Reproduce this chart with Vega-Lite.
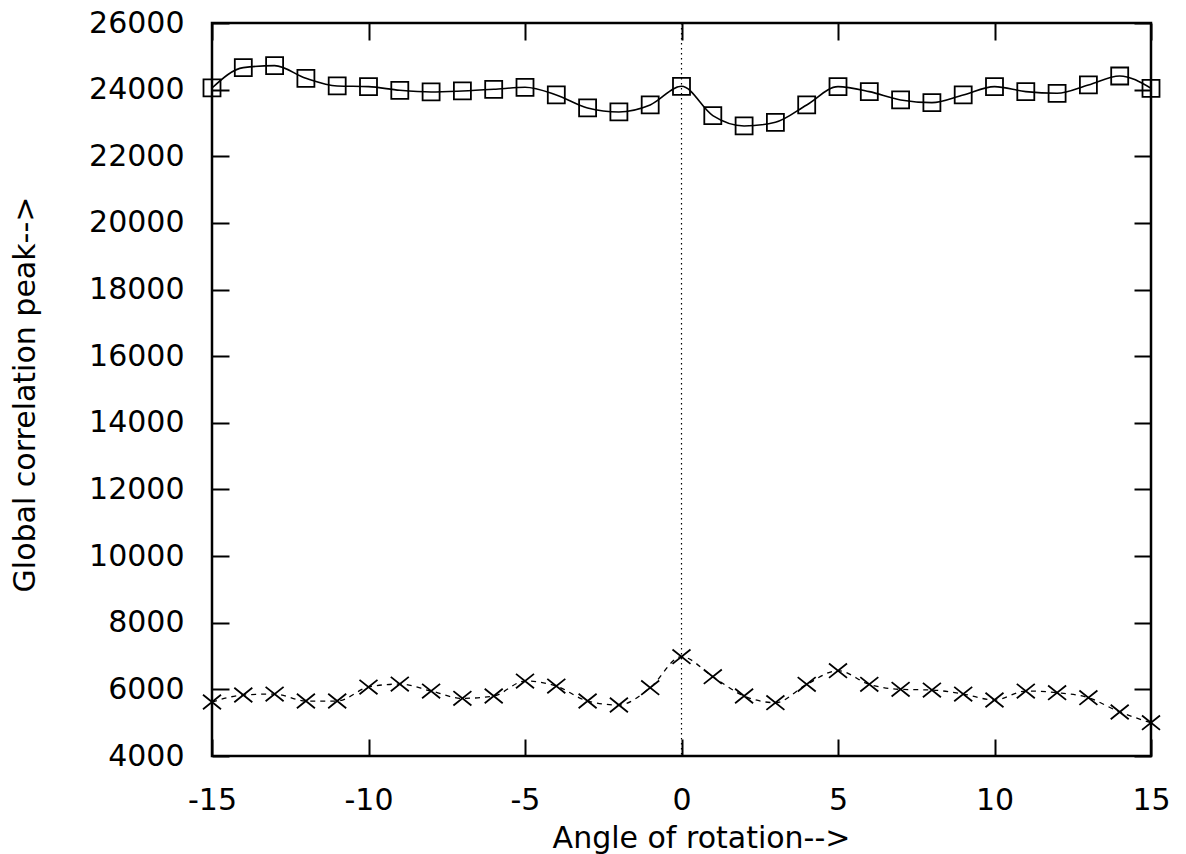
{
  "$schema": "https://vega.github.io/schema/vega-lite/v6.json",
  "autosize": "none",
  "width": 939,
  "height": 733,
  "padding": {"left": 212, "top": 23, "right": 35, "bottom": 98},
  "background": "white",
  "config": {
    "view": {"stroke": "black", "strokeWidth": 2.5},
    "font": "DejaVu Sans",
    "axis": {"grid": false, "domain": false, "tickColor": "black", "tickWidth": 2, "labelColor": "black", "titleColor": "black", "labelFont": "DejaVu Sans", "titleFont": "DejaVu Sans", "labelFontSize": 30, "titleFontSize": 30, "titleFontWeight": "normal", "labelFlush": false, "labelExpr": "'' + datum.value"}
  },
  "datasets": {
    "squares": [
      {"angle": -15, "peak": 24050}, {"angle": -14, "peak": 24660}, {"angle": -13, "peak": 24720},
      {"angle": -12, "peak": 24340}, {"angle": -11, "peak": 24110}, {"angle": -10, "peak": 24090},
      {"angle": -9, "peak": 23980}, {"angle": -8, "peak": 23930}, {"angle": -7, "peak": 23960},
      {"angle": -6, "peak": 24010}, {"angle": -5, "peak": 24070}, {"angle": -4, "peak": 23840},
      {"angle": -3, "peak": 23450}, {"angle": -2, "peak": 23330}, {"angle": -1, "peak": 23540},
      {"angle": 0, "peak": 24100}, {"angle": 1, "peak": 23220}, {"angle": 2, "peak": 22910},
      {"angle": 3, "peak": 23020}, {"angle": 4, "peak": 23540}, {"angle": 5, "peak": 24090},
      {"angle": 6, "peak": 23940}, {"angle": 7, "peak": 23690}, {"angle": 8, "peak": 23610},
      {"angle": 9, "peak": 23840}, {"angle": 10, "peak": 24090}, {"angle": 11, "peak": 23940},
      {"angle": 12, "peak": 23890}, {"angle": 13, "peak": 24140}, {"angle": 14, "peak": 24410},
      {"angle": 15, "peak": 24040}
    ],
    "crosses": [
      {"angle": -15, "peak": 5620}, {"angle": -14, "peak": 5830}, {"angle": -13, "peak": 5860},
      {"angle": -12, "peak": 5650}, {"angle": -11, "peak": 5650}, {"angle": -10, "peak": 6070},
      {"angle": -9, "peak": 6160}, {"angle": -8, "peak": 5950}, {"angle": -7, "peak": 5730},
      {"angle": -6, "peak": 5800}, {"angle": -5, "peak": 6250}, {"angle": -4, "peak": 6100},
      {"angle": -3, "peak": 5650}, {"angle": -2, "peak": 5530}, {"angle": -1, "peak": 6050},
      {"angle": 0, "peak": 6980}, {"angle": 1, "peak": 6380}, {"angle": 2, "peak": 5800},
      {"angle": 3, "peak": 5600}, {"angle": 4, "peak": 6150}, {"angle": 5, "peak": 6560},
      {"angle": 6, "peak": 6150}, {"angle": 7, "peak": 6000}, {"angle": 8, "peak": 5980},
      {"angle": 9, "peak": 5860}, {"angle": 10, "peak": 5680}, {"angle": 11, "peak": 5950},
      {"angle": 12, "peak": 5900}, {"angle": 13, "peak": 5750}, {"angle": 14, "peak": 5320},
      {"angle": 15, "peak": 5000}
    ],
    "zero": [{"angle": 0}]
  },
  "resolve": {"axis": {"x": "independent", "y": "independent"}},
  "layer": [
    {
      "data": {"name": "zero"},
      "mark": {"type": "rule", "color": "black", "strokeWidth": 1.2, "strokeDash": [1.5, 3.5]},
      "encoding": {
        "x": {"field": "angle", "type": "quantitative", "scale": {"domain": [-15, 15], "nice": false}, "axis": null}
      }
    },
    {
      "data": {"name": "squares"},
      "mark": {"type": "line", "color": "black", "strokeWidth": 1.6, "interpolate": "monotone"},
      "encoding": {
        "x": {"field": "angle", "type": "quantitative", "scale": {"domain": [-15, 15], "nice": false},
          "axis": {"values": [-15, -10, -5, 0, 5, 10, 15], "tickSize": -17, "labelPadding": 46, "title": "Angle of rotation-->", "titleX": 489, "titleY": 91, "titleBaseline": "alphabetic", "titleAlign": "center"}},
        "y": {"field": "peak", "type": "quantitative", "scale": {"domain": [4000, 26000], "nice": false, "zero": false},
          "axis": {"values": [4000, 6000, 8000, 10000, 12000, 14000, 16000, 18000, 20000, 22000, 24000, 26000], "tickSize": -17, "labelPadding": 45, "title": "Global correlation peak-->", "titleAngle": 270, "titleX": -187, "titleY": 371, "titleAlign": "center", "titleBaseline": "middle"}}
      }
    },
    {
      "data": {"name": "squares"},
      "mark": {"type": "point", "shape": "square", "filled": false, "size": 289, "stroke": "black", "strokeWidth": 1.8, "opacity": 1},
      "encoding": {
        "x": {"field": "angle", "type": "quantitative", "axis": null},
        "y": {"field": "peak", "type": "quantitative", "axis": null}
      }
    },
    {
      "data": {"name": "crosses"},
      "mark": {"type": "line", "color": "black", "strokeWidth": 1.3, "strokeDash": [5, 5], "interpolate": "monotone"},
      "encoding": {
        "x": {"field": "angle", "type": "quantitative", "axis": null},
        "y": {"field": "peak", "type": "quantitative", "axis": null}
      }
    },
    {
      "data": {"name": "crosses"},
      "mark": {"type": "point", "shape": "M-1,-0.8L1,0.8M-1,0.8L1,-0.8", "filled": false, "size": 324, "stroke": "black", "strokeWidth": 1.8, "opacity": 1},
      "encoding": {
        "x": {"field": "angle", "type": "quantitative", "axis": null},
        "y": {"field": "peak", "type": "quantitative", "axis": null}
      }
    },
    {
      "data": {"name": "squares"},
      "mark": {"type": "point", "opacity": 0},
      "encoding": {
        "x": {"field": "angle", "type": "quantitative",
          "axis": {"orient": "top", "values": [-15, -10, -5, 0, 5, 10, 15], "tickSize": -17, "labels": false, "title": null}},
        "y": {"field": "peak", "type": "quantitative",
          "axis": {"orient": "right", "values": [4000, 6000, 8000, 10000, 12000, 14000, 16000, 18000, 20000, 22000, 24000, 26000], "tickSize": -17, "labels": false, "title": null}}
      }
    }
  ]
}
